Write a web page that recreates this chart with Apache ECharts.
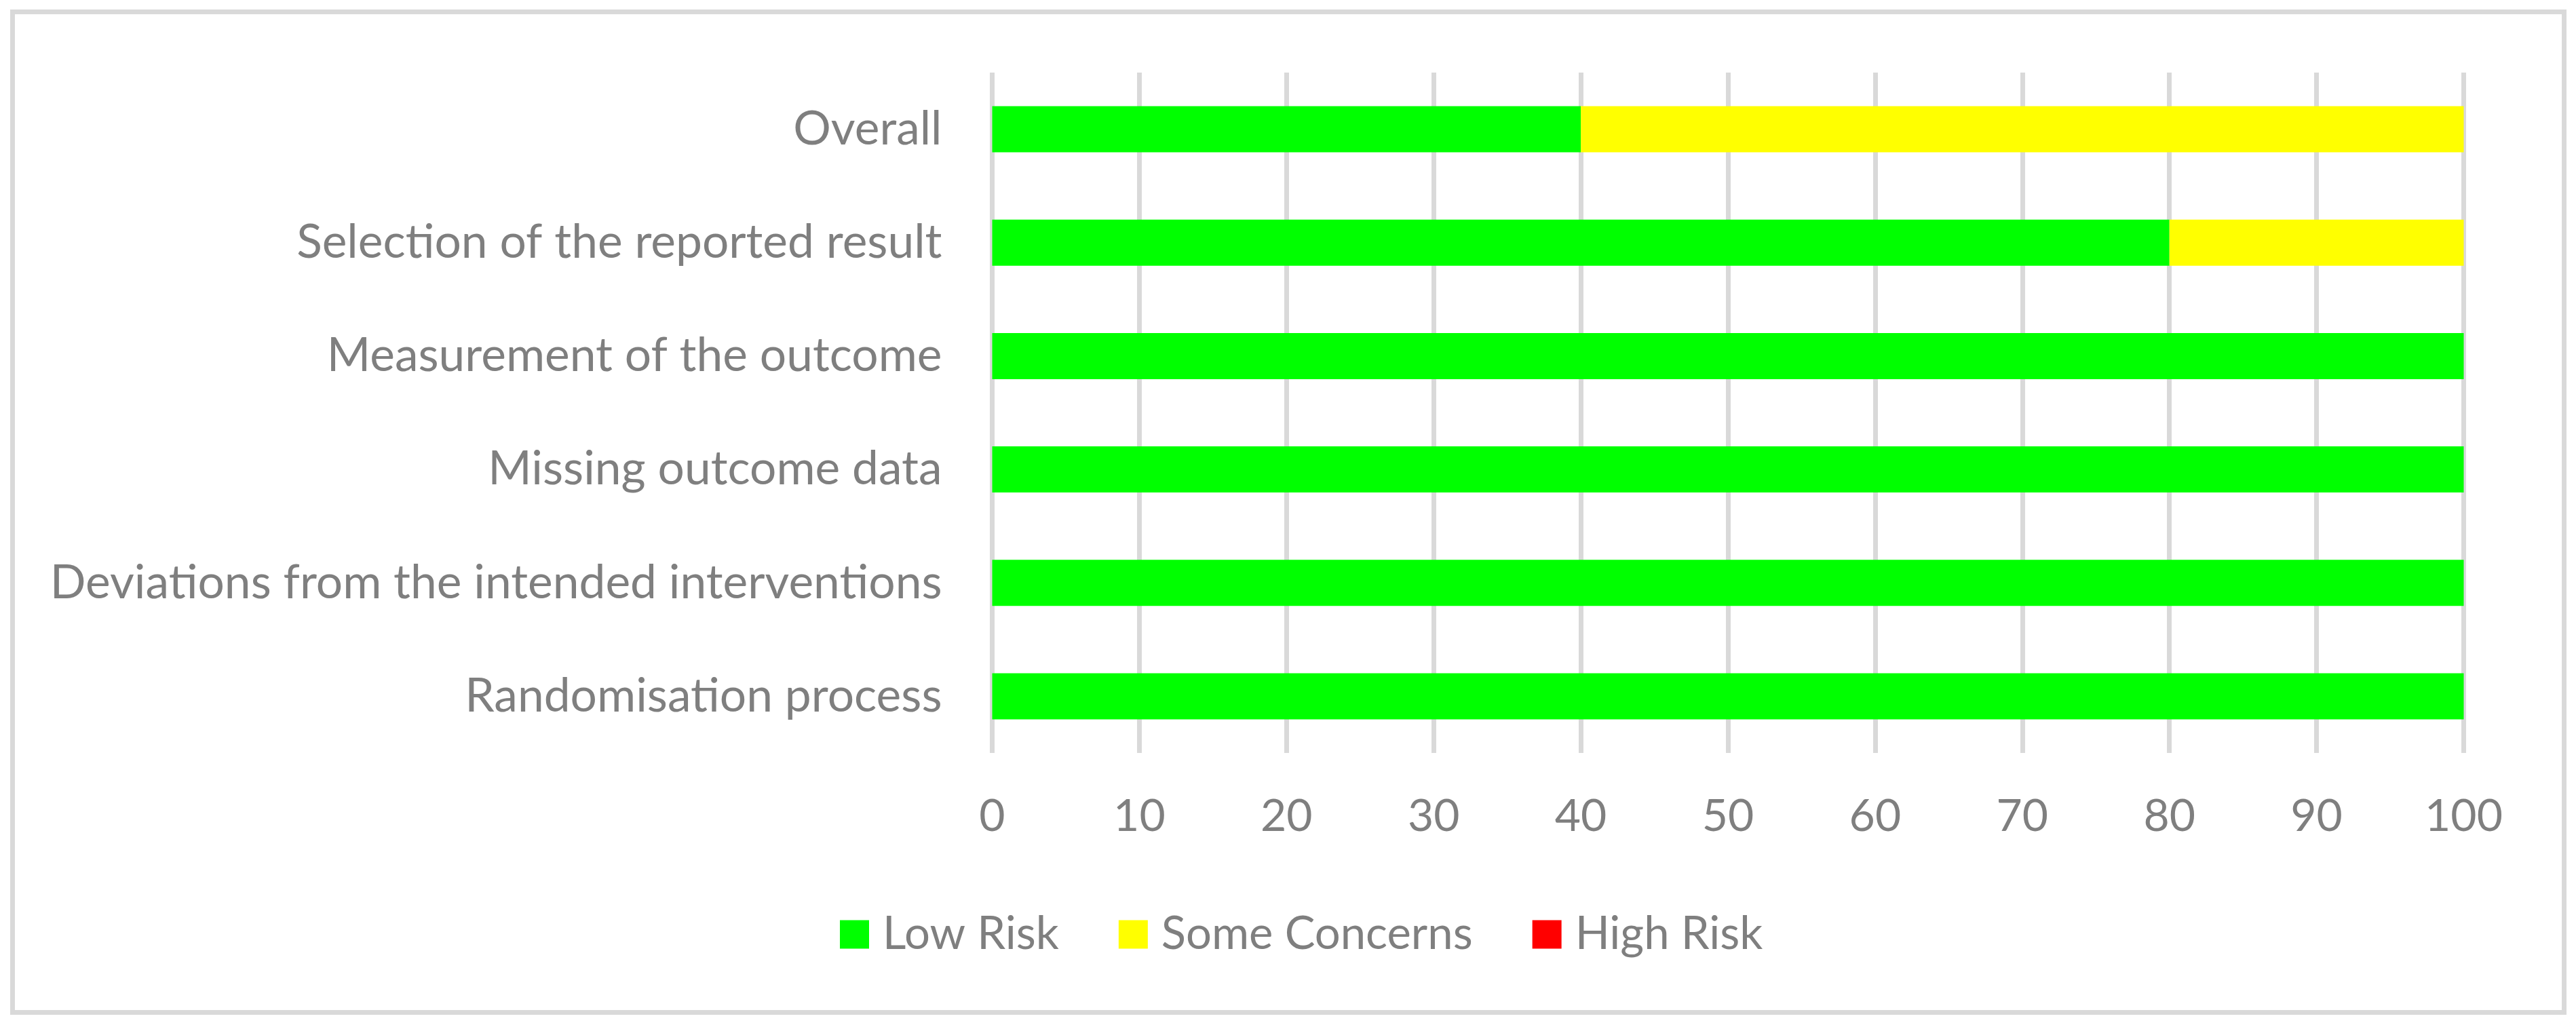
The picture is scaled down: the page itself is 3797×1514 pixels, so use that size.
<!DOCTYPE html>
<html>
<head>
<meta charset="utf-8">
<script src="https://cdn.jsdelivr.net/npm/echarts@6/dist/echarts.min.js"></script>
<style>
  html, body { margin: 0; padding: 0; background: #ffffff; }
  #chart { width: 3797px; height: 1514px; }
</style>
</head>
<body>
<div id="chart"></div>
<script>
// Categories listed bottom-to-top (ECharts category y axis starts at the bottom)
const categories = [
  'Randomisation process',
  'Deviations from the intended interventions',
  'Missing outcome data',
  'Measurement of the outcome',
  'Selection of the reported result',
  'Overall'
];
const lowRisk = [100, 100, 100, 100, 80, 40];
const someConcerns = [0, 0, 0, 0, 20, 60];
const highRisk = [0, 0, 0, 0, 0, 0];
const seriesNames = ['Low Risk', 'Some Concerns', 'High Risk'];
const seriesColors = ['#00ff00', '#ffff00', '#ff0000'];
const xTicks = { min: 0, max: 100, interval: 10 };

const FONT = 'Lato';
const FS_CAT = 69.5;
const FS_TICK = 66;
const FS_LEG = 67;
const GREY = '#7f7f7f';

const chart = echarts.init(document.getElementById('chart'), null, { renderer: 'canvas' });

const seriesData = [lowRisk, someConcerns, highRisk];
const option = {
  backgroundColor: '#ffffff',
  animation: false,
  textStyle: { fontFamily: FONT },
  graphic: [{
    type: 'rect',
    shape: { x: 18.5, y: 17.5, width: 3761, height: 1475 },
    style: { fill: 'none', stroke: '#d9d9d9', lineWidth: 7 },
    silent: true
  }],
  grid: { left: 1462.5, right: 165.5, top: 107, bottom: 404, containLabel: false },
  legend: {
    data: seriesNames,
    left: 1233,
    top: 1339,
    itemWidth: 43,
    itemHeight: 42,
    itemGap: 88,
    icon: 'rect',
    textStyle: { color: GREY, fontFamily: FONT, fontSize: FS_LEG, padding: [0, 0, 0, 15] }
  },
  xAxis: {
    type: 'value',
    min: xTicks.min,
    max: xTicks.max,
    interval: xTicks.interval,
    axisLine: { show: false },
    axisTick: { show: false },
    splitLine: { show: true, lineStyle: { color: '#d9d9d9', width: 7 } },
    axisLabel: { color: GREY, fontFamily: FONT, fontSize: FS_TICK, margin: 94, verticalAlign: 'middle' }
  },
  yAxis: {
    type: 'category',
    data: categories,
    axisLine: { show: false },
    axisTick: { show: false },
    splitLine: { show: false },
    axisLabel: { color: GREY, fontFamily: FONT, fontSize: FS_CAT, margin: 74 }
  },
  series: seriesNames.map((name, i) => ({
    name: name,
    type: 'bar',
    stack: 'risk',
    barWidth: 68,
    itemStyle: { color: seriesColors[i] },
    data: seriesData[i]
  }))
};
chart.setOption(option);
</script>
</body>
</html>
